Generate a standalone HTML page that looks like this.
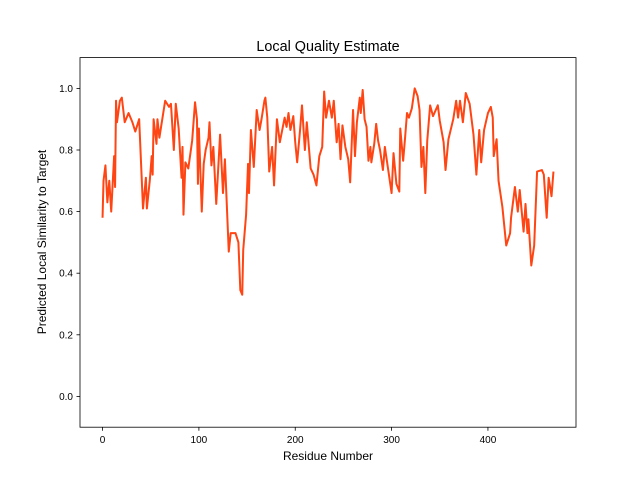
<!DOCTYPE html>
<html><head><meta charset="utf-8"><style>
html,body{margin:0;padding:0;background:#fff;}
svg{display:block;font-family:"Liberation Sans","DejaVu Sans",sans-serif;}
</style></head><body>
<svg id="chart" width="640" height="480" viewBox="0 0 640 480">
<rect x="0" y="0" width="640" height="480" fill="#fff"/>
<text x="328" y="51" text-anchor="middle" font-size="14.4" fill="#000">Local Quality Estimate</text>
<g id="plot"></g>
<rect x="80" y="57.6" width="496" height="369.6" fill="none" stroke="#000" stroke-width="0.8"/>
<g id="xticks"></g>
<g id="yticks"></g>
<text x="328" y="460" text-anchor="middle" font-size="12" fill="#000">Residue Number</text>
<text transform="translate(46,242) rotate(-90)" text-anchor="middle" font-size="12" fill="#000">Predicted Local Similarity to Target</text>
</svg>
<script>
const residues = [0,1,3,5,7,9,12,13,14,15,18,20,23,27,31,34,38,42,45,46,49,51,52,53,56,57,59,65,69,71,74,76,79,82,83,84,86,89,93,96,98,99,100,103,105,107,110,111,113,115,118,122,125,127,131,133,138,141,143,145,146,149,151,152,154,157,160,163,165,168,169,171,173,176,178,181,184,189,191,193,195,198,200,202,205,207,210,212,216,219,222,225,228,230,232,235,238,240,243,245,247,249,252,255,257,260,262,264,267,268,270,272,274,276,278,279,282,284,286,288,291,293,297,300,302,305,308,309,312,314,316,318,321,324,327,329,331,333,335,337,340,343,348,350,354,356,359,364,367,369,371,374,377,381,385,388,391,393,396,400,403,405,406,409,411,415,419,423,424,428,431,433,437,439,441,442,445,448,451,456,458,460,461,463,466,468];
const scores = [0.58,0.70,0.75,0.63,0.70,0.60,0.78,0.68,0.96,0.89,0.96,0.97,0.89,0.92,0.89,0.86,0.90,0.61,0.71,0.61,0.70,0.78,0.72,0.90,0.82,0.90,0.84,0.96,0.94,0.95,0.80,0.95,0.87,0.71,0.81,0.59,0.76,0.74,0.83,0.955,0.90,0.69,0.87,0.60,0.755,0.80,0.84,0.89,0.75,0.81,0.625,0.85,0.66,0.77,0.47,0.53,0.53,0.50,0.345,0.33,0.475,0.59,0.755,0.66,0.865,0.745,0.93,0.865,0.90,0.96,0.97,0.905,0.73,0.81,0.685,0.90,0.825,0.905,0.875,0.92,0.865,0.91,0.825,0.76,0.865,0.945,0.80,0.89,0.74,0.72,0.685,0.78,0.81,0.99,0.905,0.96,0.905,0.96,0.825,0.885,0.77,0.88,0.81,0.77,0.695,0.93,0.78,0.89,0.97,0.92,0.995,0.90,0.875,0.765,0.81,0.76,0.82,0.885,0.83,0.80,0.735,0.81,0.725,0.66,0.79,0.69,0.665,0.87,0.765,0.84,0.92,0.905,0.935,1.0,0.975,0.93,0.745,0.81,0.66,0.83,0.945,0.91,0.945,0.895,0.825,0.735,0.835,0.90,0.96,0.905,0.96,0.89,0.985,0.95,0.85,0.72,0.865,0.76,0.865,0.92,0.94,0.905,0.78,0.835,0.70,0.615,0.49,0.53,0.58,0.68,0.60,0.67,0.535,0.625,0.53,0.575,0.425,0.49,0.73,0.735,0.72,0.625,0.58,0.71,0.65,0.73];
const xTickValues = [0,100,200,300,400];
const xTickLabels = ["0","100","200","300","400"];
const yTickValues = [0,0.2,0.4,0.6,0.8,1.0];
const yTickLabels = ["0.0","0.2","0.4","0.6","0.8","1.0"];
const xMin = -23.4, xMax = 491.4, yMin = -0.1, yMax = 1.1;
const L = 80, R = 576, T = 57.6, B = 427.2;
function sx(v){ return L + (v - xMin) / (xMax - xMin) * (R - L); }
function sy(v){ return B - (v - yMin) / (yMax - yMin) * (B - T); }
const NS = "http://www.w3.org/2000/svg";
const plot = document.getElementById('plot');
const line = document.createElementNS(NS, 'polyline');
line.setAttribute('points', residues.map((r, i) => sx(r).toFixed(2) + ',' + sy(scores[i]).toFixed(2)).join(' '));
line.setAttribute('fill', 'none');
line.setAttribute('stroke', '#ff4513');
line.setAttribute('stroke-width', '2');
line.setAttribute('stroke-linejoin', 'round');


plot.appendChild(line);
const xg = document.getElementById('xticks');
xTickValues.forEach((v, i) => {
  const x = sx(v);
  const t = document.createElementNS(NS, 'line');
  t.setAttribute('x1', x); t.setAttribute('x2', x);
  t.setAttribute('y1', B); t.setAttribute('y2', B + 3.5);
  t.setAttribute('stroke', '#000'); t.setAttribute('stroke-width', '0.8');
  
  
  xg.appendChild(t);
  const lb = document.createElementNS(NS, 'text');
  lb.setAttribute('x', x); lb.setAttribute('y', B + 16);
  lb.setAttribute('text-anchor', 'middle'); lb.setAttribute('font-size', '10');
  lb.textContent = xTickLabels[i];
  
  
  xg.appendChild(lb);
});
const yg = document.getElementById('yticks');
yTickValues.forEach((v, i) => {
  const y = sy(v);
  const t = document.createElementNS(NS, 'line');
  t.setAttribute('x1', L - 3.5); t.setAttribute('x2', L);
  t.setAttribute('y1', y); t.setAttribute('y2', y);
  t.setAttribute('stroke', '#000'); t.setAttribute('stroke-width', '0.8');
  
  
  yg.appendChild(t);
  const lb = document.createElementNS(NS, 'text');
  lb.setAttribute('x', L - 7); lb.setAttribute('y', y + 3.5);
  lb.setAttribute('text-anchor', 'end'); lb.setAttribute('font-size', '10');
  lb.textContent = yTickLabels[i];
  
  
  yg.appendChild(lb);
});
</script>
</body></html>
